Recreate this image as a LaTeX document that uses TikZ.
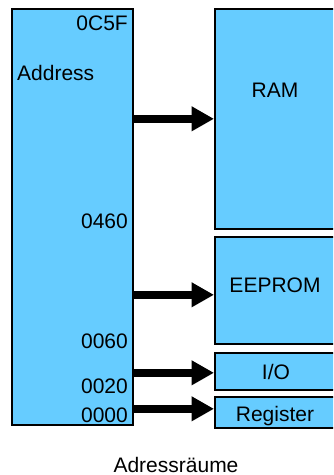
\documentclass[tikz,border=0pt]{standalone}
\usepackage{fontspec}
\setmainfont{Liberation Sans}
\usetikzlibrary{arrows.meta}
\definecolor{boxblue}{RGB}{102,204,255}
\tikzset{
  membox/.style={draw=black, fill=boxblue, line width=1.6pt, inner sep=0pt, anchor=north west},
  lbl/.style={inner sep=0pt, font=\fontsize{21}{25}\selectfont},
  bigarrow/.style={line width=8pt, -{Triangle[length=22.5pt,width=23.5pt]}}
}
\begin{document}
\begin{tikzpicture}[x=1pt,y=-1pt]
\useasboundingbox (0,0) rectangle (333,475);
\clip (0,0) rectangle (333,475);
\node[membox, minimum width=121pt, minimum height=416pt] (addr) at (11,8) {};
\node[membox, minimum width=122pt, minimum height=220pt] (ram) at (214,8) {};
\node[membox, minimum width=122pt, minimum height=107pt] (eeprom) at (214,236) {};
\node[membox, minimum width=122pt, minimum height=37pt] (io) at (214,352) {};
\node[membox, minimum width=122pt, minimum height=31pt] (reg) at (214,396) {};

\node[lbl, anchor=base east] (l0c5f) at (128,30) {0C5F};
\node[lbl, anchor=base west] (laddr) at (17,80) {Address};
\node[lbl, anchor=base east] (l0460) at (128,228) {0460};
\node[lbl, anchor=base east] (l0060) at (128,348) {0060};
\node[lbl, anchor=base east] (l0020) at (128,393) {0020};
\node[lbl, anchor=base east] (l0000) at (128,422) {0000};

\node[lbl, anchor=base] (lram) at (275,97) {RAM};
\node[lbl, anchor=base] (leeprom) at (275,292) {EEPROM};
\node[lbl, anchor=base] (lio) at (276,379) {I/O};
\node[lbl, anchor=base] (lreg) at (275,421.5) {Register};
\node[lbl, anchor=base] (ltitle) at (176,472) {Adressräume};

\draw[bigarrow] (addr.east |- ram.west) -- (ram.west);
\draw[bigarrow] ([yshift=-4.5pt]addr.east |- eeprom.west) -- ([yshift=-4.5pt]eeprom.west);
\draw[bigarrow] ([yshift=-1.5pt]addr.east |- io.west) -- ([yshift=-1.5pt]io.west);
\draw[bigarrow] ([yshift=3.5pt]addr.east |- reg.west) -- ([yshift=3.5pt]reg.west);
\end{tikzpicture}
\end{document}
